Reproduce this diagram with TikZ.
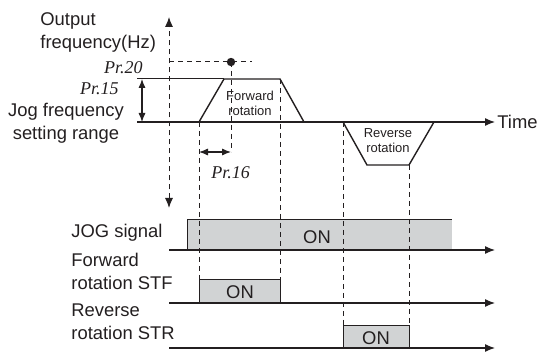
\documentclass[tikz,border=0pt]{standalone}
\usepackage{fontspec}
\setmainfont{Liberation Sans}
\newfontfamily\serifit{Liberation Serif}
\usetikzlibrary{arrows.meta}
\definecolor{ink}{HTML}{231F20}
\definecolor{onfill}{HTML}{D1D3D4}
\begin{document}
\begin{tikzpicture}[x=0.5pt,y=-0.5pt,
  axis/.style={draw=ink, line width=0.6pt, -{Latex[length=5pt,width=4pt]}},
  dbl/.style={draw=ink, line width=0.6pt, {Latex[length=4.5pt,width=3.6pt]}-{Latex[length=4.5pt,width=3.6pt]}},
  guide/.style={draw=ink, line width=0.5pt, dash pattern=on 2.5pt off 2pt},
  thin/.style={draw=ink, line width=0.5pt},
  curve/.style={draw=ink, line width=0.7pt},
  lbl/.style={font=\fontsize{9.2}{11.5}\selectfont, inner sep=0pt, text=ink},
  small/.style={font=\fontsize{6.5}{7.5}\selectfont, inner sep=0pt, text=ink, align=center},
  pr/.style={font=\serifit\itshape\fontsize{9}{10}\selectfont, inner sep=0pt, text=ink}]
\useasboundingbox (0,0) rectangle (537,352);

% key points
\coordinate (vtop) at (169,17);
\coordinate (vbot) at (169,208);
\coordinate (tstart) at (137,122);
\coordinate (tend) at (495,122);
\coordinate (p20a) at (169,62);
\coordinate (p20b) at (252,62);
\coordinate (dot) at (231,62);
\coordinate (p15a) at (137,79);
\coordinate (o0) at (169,122);
\coordinate (r1) at (199,122);
\coordinate (r2) at (224,79);
\coordinate (r3) at (280,79);
\coordinate (r4) at (304,122);
\coordinate (r5) at (343,122);
\coordinate (r6) at (367,165);
\coordinate (r7) at (409,165);
\coordinate (r8) at (434,122);
\coordinate (ra) at (142,79);
\coordinate (rb) at (142,122);
\coordinate (p16a) at (199,152);
\coordinate (p16b) at (231,152);

% signal boxes (drawn first, guides over them)
\fill[onfill] (187,220) rectangle (452,250);
\draw[thin] (187,250) -- (187,220) -- (452,220);
\fill[onfill] (199,280) rectangle (280,303);
\draw[thin] (199,303) -- (199,280) -- (280,280) -- (280,303);
\fill[onfill] (343,326) rectangle (409,348);
\draw[thin] (343,348) -- (343,326) -- (409,326) -- (409,348);

% baselines
\coordinate (jogA) at (169,250); \coordinate (jogB) at (495,250);
\coordinate (stfA) at (169,303); \coordinate (stfB) at (495,303);
\coordinate (strA) at (169,348); \coordinate (strB) at (495,348);
\draw[axis] (jogA) -- (jogB);
\draw[axis] (stfA) -- (stfB);
\draw[axis] (strA) -- (strB);

% frequency axis
\draw[guide, {Latex[length=5pt,width=4pt]}-{Latex[length=5pt,width=4pt]}] (vbot) -- (vtop);
\draw[axis] (tstart) -- (tend);

% Pr.20 and Pr.15 levels
\draw[guide] (p20a) -- (p20b);
\fill[ink] (dot) circle[radius=2.1pt];
\draw[thin] (p15a) -- (r2);

% output profile
\draw[curve] (o0) -- (r1) -- (r2) -- (r3) -- (r4) -- (r5) -- (r6) -- (r7) -- (r8);

% range and time arrows
\draw[dbl] (ra) -- (rb);
\draw[dbl] (p16a) -- (p16b);

% vertical guides
\draw[guide] (r1) -- (199,280);
\draw[guide] (dot) -- (p16b);
\draw[guide] (r3) -- (280,280);
\draw[guide] (r5) -- (343,326);
\draw[guide] (r7) -- (409,326);

% labels
\node[lbl, anchor=west, align=left] (outlbl) at (40,32) {Output\\frequency(Hz)};
\node[lbl, align=center] (joglbl) at (66,123) {Jog frequency\\setting range};
\node[pr, anchor=east] (pr20) at (143,68) {Pr.20};
\node[pr, anchor=east] (pr15) at (119,89) {Pr.15};
\node[pr, anchor=west] (pr16) at (211,173) {Pr.16};
\node[lbl, anchor=west] (time) at (497,122) {Time};
\node[small] (fwd) at (250,103) {Forward\\rotation};
\node[small] (rev) at (388,141) {Reverse\\rotation};
\node[lbl, anchor=west] (jogsig) at (71,233) {JOG signal};
\node[lbl, anchor=west, align=left] (stf) at (71,271) {Forward\\rotation STF};
\node[lbl, anchor=west, align=left] (str) at (71,322) {Reverse\\rotation STR};
\node[lbl] (on1) at (317,237) {ON};
\node[lbl] (on2) at (240,292) {ON};
\node[lbl] (on3) at (376,338) {ON};
\end{tikzpicture}
\end{document}
